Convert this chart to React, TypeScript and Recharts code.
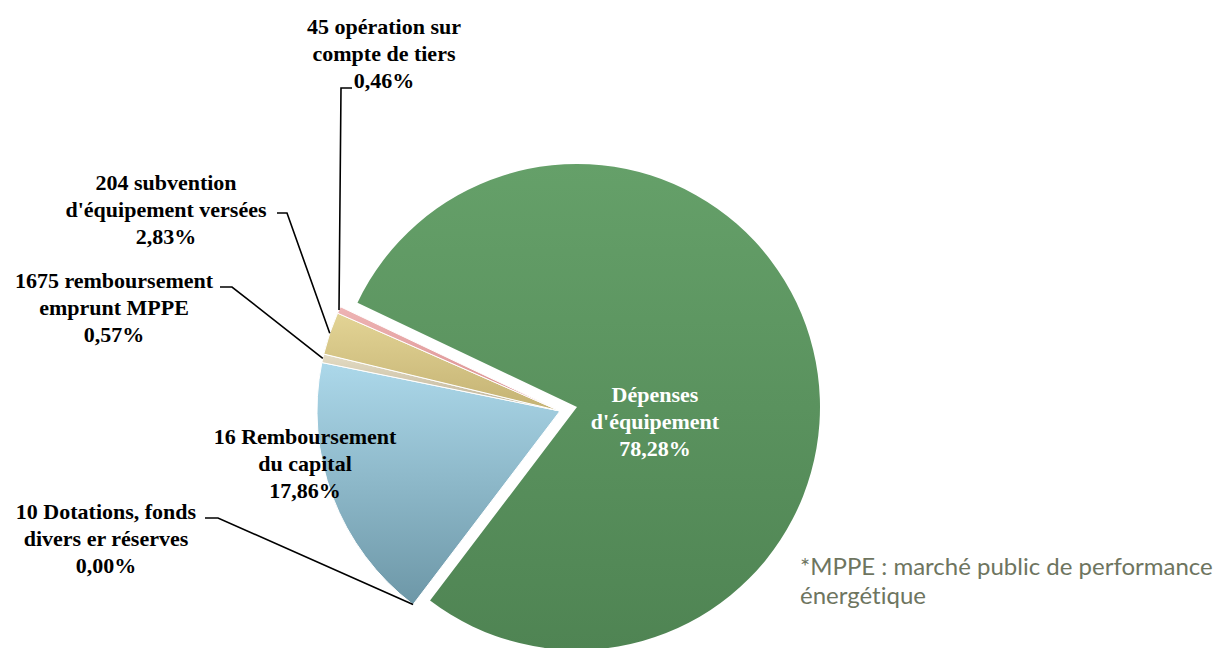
import React from "react"
import { PieChart, Pie, Cell } from "recharts"

// slices in clockwise order, starting from the top-left edge of the green slice
const categories = [
  ["Dépenses", "d'équipement"],
  ["10 Dotations, fonds", "divers er réserves"],
  ["16 Remboursement", "du capital"],
  ["1675 remboursement", "emprunt MPPE"],
  ["204 subvention", "d'équipement versées"],
  ["45 opération sur", "compte de tiers"],
]
const shares = [78.28, 0.0, 17.86, 0.57, 2.83, 0.46]
const footnote = ["*MPPE : marché public de performance", "énergétique"]

const data = categories.map((c, i) => ({ name: c.join(" "), lines: c, value: shares[i] }))

const GRADS = [
  ["#65a069", "#4f8453"],
  ["#b0c4cc", "#8aa3ad"],
  ["#acd8ea", "#6d97a7"],
  ["#e4dcc4", "#bdb196"],
  ["#e3d495", "#c4b273"],
  ["#eeb4b4", "#d88c8c"],
]

// label text centre (first line) + leader tick start / elbow, by slice index
const LAYOUT: any[] = [
  { x: 655, y: 395, color: "#fff" },
  { x: 106, y: 512, tick: [205, 518, 218, 518] },
  { x: 305, y: 437 },
  { x: 114, y: 281, tick: [220, 287, 232, 287] },
  { x: 166, y: 183, tick: [277, 213, 287, 213] },
  { x: 384, y: 27, tick: [352, 88, 341, 88] },
]

const RAD = Math.PI / 180
const fmt = (v: number) => v.toFixed(2).replace(".", ",") + "%"

const renderLabel = (only: "green" | "rest") => (p: any) => {
  const { cx, cy, midAngle, outerRadius, index } = p
  if (only === "green" && index !== 0) return null
  if (only === "rest" && index === 0) return null
  const L = LAYOUT[index]
  const ax = cx + outerRadius * Math.cos(-midAngle * RAD)
  const ay = cy + outerRadius * Math.sin(-midAngle * RAD)
  const rows = [...data[index].lines, fmt(data[index].value)]
  return (
    <g key={`lbl-${index}`}>
      {L.tick && (
        <polyline
          points={`${L.tick[0]},${L.tick[1]} ${L.tick[2]},${L.tick[3]} ${ax},${ay}`}
          fill="none"
          stroke="#000"
          strokeWidth={1.6}
        />
      )}
      {rows.map((r, k) => (
        <text
          key={k}
          x={L.x}
          y={L.y + k * 27 + 7}
          textAnchor="middle"
          fontFamily="'Liberation Serif', serif"
          fontWeight="bold"
          fontSize={22}
          fill={L.color || "#000"}
        >
          {r}
        </text>
      ))}
    </g>
  )
}

export default function App() {
  const start = 154.6
  return (
    <div style={{ position: "absolute", left: 0, top: 0, background: "#fff" }}>
      <PieChart width={1218} height={648}>
        <defs>
          {GRADS.map((g, i) => (
            <linearGradient key={i} id={`g${i}`} x1="0" y1="0" x2="0" y2="1">
              <stop offset="0%" stopColor={g[0]} />
              <stop offset="100%" stopColor={g[1]} />
            </linearGradient>
          ))}
        </defs>
        <Pie
          data={data}
          dataKey="value"
          cx={555}
          cy={406}
          outerRadius={243}
          startAngle={start}
          endAngle={start - 360}
          label={renderLabel("rest")}
          labelLine={false}
          isAnimationActive={false}
        >
          {data.map((_, i) => (
            <Cell key={i} fill={i === 0 ? "none" : `url(#g${i})`} stroke={i === 0 ? "none" : "#fff"} strokeWidth={1} />
          ))}
        </Pie>
        <Pie
          data={data}
          dataKey="value"
          cx={572}
          cy={402}
          outerRadius={243}
          startAngle={start}
          endAngle={start - 360}
          label={renderLabel("green")}
          labelLine={false}
          isAnimationActive={false}
        >
          {data.map((_, i) => (
            <Cell key={i} fill={i === 0 ? "url(#g0)" : "none"} stroke="none" />
          ))}
        </Pie>
        {footnote.map((t, k) => (
          <text
            key={k}
            x={800}
            y={575 + k * 29}
            fontFamily="Lato, sans-serif"
            fontSize={24}
            fill="#6e755f"
            style={{ fontVariantLigatures: "none" }}
          >
            {t}
          </text>
        ))}
      </PieChart>
    </div>
  )
}
